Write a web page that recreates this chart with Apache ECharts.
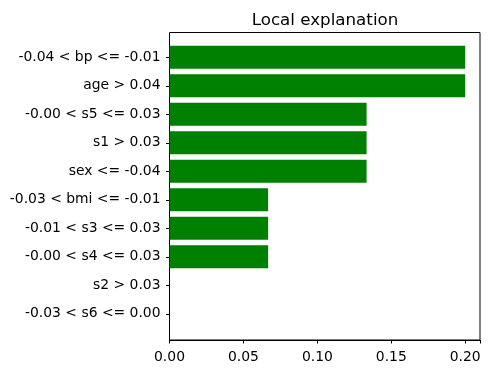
<!DOCTYPE html>
<html>
<head>
<meta charset="utf-8">
<script src="https://cdn.jsdelivr.net/npm/echarts@6/dist/echarts.min.js"></script>
<style>
  html, body { margin: 0; padding: 0; background: #fff; }
  #main { width: 490px; height: 374px; }
</style>
</head>
<body>
<div id="main"></div>
<script>
// feature conditions, top to bottom
var categories = ['-0.04 < bp <= -0.01', 'age > 0.04', '-0.00 < s5 <= 0.03', 's1 > 0.03',
  'sex <= -0.04', '-0.03 < bmi <= -0.01', '-0.01 < s3 <= 0.03', '-0.00 < s4 <= 0.03',
  's2 > 0.03', '-0.03 < s6 <= 0.00'];
var weights = [0.2, 0.2, 0.1333, 0.1333, 0.1333, 0.0667, 0.0667, 0.0667, 0, 0];
var xTicks = [0, 0.05, 0.1, 0.15, 0.2];

var chart = echarts.init(document.getElementById('main'));
var font = 'DejaVu Sans';

var option = {
  animation: false,
  backgroundColor: '#ffffff',
  title: {
    text: 'Local explanation',
    left: 320,
    top: 7,
    textAlign: 'center',
    textStyle: { fontFamily: font, fontSize: 16.7, fontWeight: 'normal', color: '#000' }
  },
  grid: [
    // frame + x axis
    { left: 169.5, right: 10, top: 32.5, bottom: 34, show: true, borderColor: '#000', borderWidth: 1 },
    // bars (category bands sit inside the frame with margins like matplotlib)
    { left: 169.5, right: 10, top: 43, bottom: 46 }
  ],
  xAxis: [
    {
      gridIndex: 0, type: 'value', min: 0, max: 0.21, interval: 0.05,
      axisLine: { show: true, lineStyle: { color: '#000', width: 1 } },
      axisTick: { show: true, length: 3.5, lineStyle: { color: '#000' } },
      splitLine: { show: false },
      axisLabel: {
        color: '#000', fontFamily: font, fontSize: 13.9, margin: 10,
        formatter: function (v) {
          return xTicks.some(function (t) { return Math.abs(t - v) < 1e-9; }) ? v.toFixed(2) : '';
        }
      }
    },
    {
      gridIndex: 1, type: 'value', min: 0, max: 0.21, show: false
    }
  ],
  yAxis: [
    {
      gridIndex: 0, type: 'value', min: 0, max: 1, show: false
    },
    {
      gridIndex: 1, type: 'category', data: categories, inverse: true,
      axisLine: { show: false },
      axisTick: { show: true, alignWithLabel: true, length: 3.5, lineStyle: { color: '#000' } },
      axisLabel: { color: '#000', fontFamily: font, fontSize: 13.9, margin: 9 },
      splitLine: { show: false }
    }
  ],
  series: [{
    type: 'bar',
    xAxisIndex: 1,
    yAxisIndex: 1,
    data: weights,
    barWidth: '80%',
    itemStyle: { color: '#008000' }
  }]
};
chart.setOption(option);
</script>
</body>
</html>
